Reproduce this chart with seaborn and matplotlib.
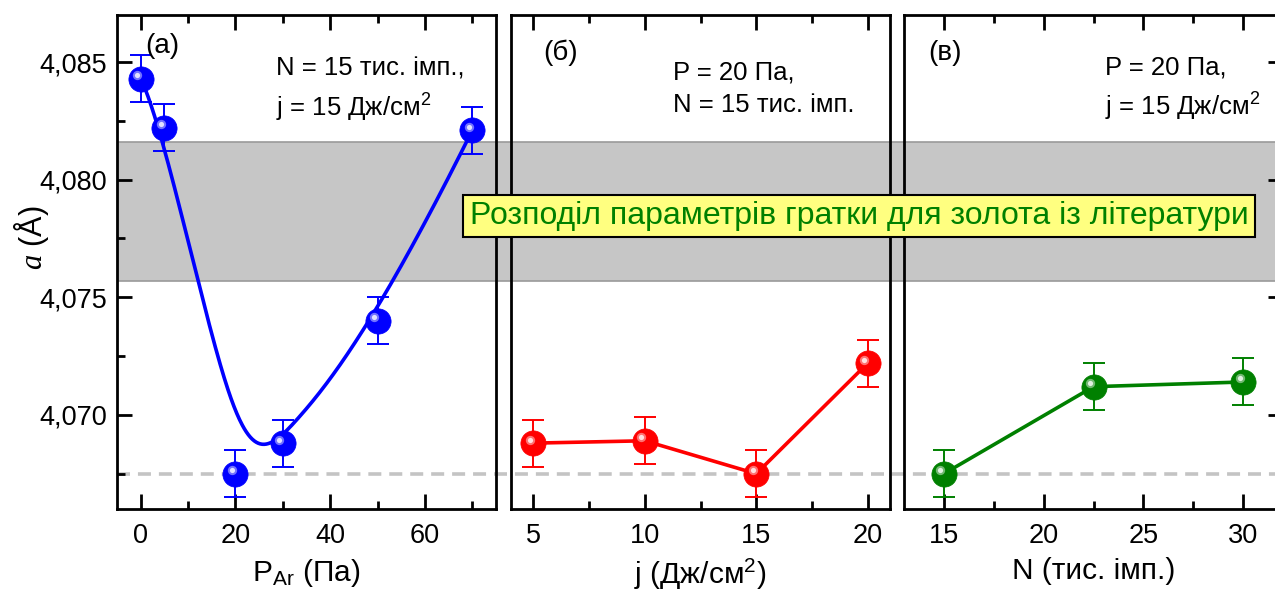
import numpy as np
import pandas as pd
import matplotlib
matplotlib.use("Agg")
import matplotlib.pyplot as plt
import matplotlib.transforms as mtransforms
from matplotlib.ticker import FuncFormatter, MultipleLocator
import seaborn as sns

# ---------------- data ----------------
p_ar = [0, 5, 20, 30, 50, 70]
a_p = [4.0843, 4.0822, 4.0675, 4.0688, 4.0740, 4.0821]
err_p = [0.001, 0.001, 0.001, 0.001, 0.001, 0.001]

j_vals = [5, 10, 15, 20]
a_j = [4.0688, 4.0689, 4.0675, 4.0722]
err_j = [0.001, 0.001, 0.001, 0.001]

n_vals = [15, 22.5, 30]
a_n = [4.0675, 4.0712, 4.0714]
err_n = [0.001, 0.001, 0.001]

lit_low, lit_high = 4.0757, 4.0816
ref_line = 4.0675

box_text = "Розподіл параметрів гратки для золота із літератури"
panel_tags = ["(а)", "(б)", "(в)"]
cond_texts = ["N = 15 тис. імп.,\nj = 15 Дж/см$^2$",
              "P = 20 Па,\nN = 15 тис. імп.",
              "P = 20 Па,\nj = 15 Дж/см$^2$"]
xlabels = ["P$_{\\mathrm{Ar}}$ (Па)", "j (Дж/см$^2$)", "N (тис. імп.)"]

# ---------------- style ----------------
sns.set_theme(style="ticks")
plt.rcParams["font.family"] = ["Liberation Sans", "DejaVu Sans"]
plt.rcParams["mathtext.fontset"] = "custom"
plt.rcParams["mathtext.rm"] = "Liberation Sans"
plt.rcParams["mathtext.it"] = "Liberation Serif:italic"
plt.rcParams["mathtext.default"] = "rm"
for key in ["text.color", "axes.labelcolor", "xtick.color", "ytick.color",
            "xtick.labelcolor", "ytick.labelcolor"]:
    plt.rcParams[key] = "black"


def bspline(cx, cy, k=3, n=300):
    cx = np.asarray(cx, float); cy = np.asarray(cy, float)
    m = len(cx)
    t = np.concatenate([np.zeros(k), np.linspace(0, 1, m - k + 1), np.ones(k)])
    u = np.linspace(0, 1, n)
    u[-1] = 1 - 1e-12
    B = np.zeros((n, len(t) - 1))
    for i in range(len(t) - 1):
        B[:, i] = ((u >= t[i]) & (u < t[i + 1])).astype(float)
    for d in range(1, k + 1):
        Bn = np.zeros((n, len(t) - 1 - d))
        for i in range(len(t) - 1 - d):
            a = 0.0
            if t[i + d] > t[i]:
                a = (u - t[i]) / (t[i + d] - t[i]) * B[:, i]
            b = 0.0
            if t[i + d + 1] > t[i + 1]:
                b = (t[i + d + 1] - u) / (t[i + d + 1] - t[i + 1]) * B[:, i + 1]
            Bn[:, i] = a + b
        B = Bn
    return B @ cx, B @ cy


W, H = 1275, 594
fig = plt.figure(figsize=(W / 100, H / 100), dpi=100)

ylim = (4.0660, 4.0870)
bottom = 1 - 509 / H
height = (509 - 15) / H
pw = 379 / W
lefts = [117 / W, 511 / W, 904 / W]

# background band + dashed ref line across all panels
bg = fig.add_axes([117 / W, bottom, 1.2, height], zorder=-5)
bg.set_xlim(0, 1)
bg.set_ylim(*ylim)
bg.axhspan(lit_low, lit_high, color="#c6c6c6", lw=0)
bg.axhline(lit_low, color="#9a9a9a", lw=1.2)
bg.axhline(lit_high, color="#9a9a9a", lw=1.2)
bg.axhline(ref_line, color="#c4c4c4", lw=2.6, dashes=(3.6, 2.2))
bg.axis("off")

axes = [fig.add_axes([l, bottom, pw, height]) for l in lefts]
colors = ["#0000ff", "#ff0000", "#008000"]
xs = [p_ar, j_vals, n_vals]
ys = [a_p, a_j, a_n]
errs = [err_p, err_j, err_n]
xlims = [(-5, 75), (4, 21), (13, 32)]
xmaj = [20, 5, 5]
xmin = [10, 2.5, 2.5]

for i, ax in enumerate(axes):
    ax.set_facecolor("none")
    c = colors[i]
    df = pd.DataFrame({"x": xs[i], "y": ys[i]})
    if i == 0:
        bx, by = bspline(xs[i], ys[i])
        ax.plot(bx, by, color=c, lw=2.6, zorder=2)
    else:
        sns.lineplot(data=df, x="x", y="y", ax=ax, color=c, lw=2.6,
                     sort=False, zorder=2)
    ax.errorbar(xs[i], ys[i], yerr=errs[i], fmt="none", ecolor=c,
                elinewidth=1.4, capsize=8, capthick=1.4, zorder=3)
    sns.scatterplot(data=df, x="x", y="y", ax=ax, color=c, s=330,
                    edgecolor=c, linewidth=0.5, zorder=4, legend=False)
    hl = mtransforms.offset_copy(ax.transData, fig=fig, x=-3.5, y=3.5, units="dots")
    ax.scatter(xs[i], ys[i], s=45, color="white", alpha=0.45, lw=0,
               transform=hl, zorder=5)
    ax.scatter(xs[i], ys[i], s=14, color="white", alpha=0.8, lw=0,
               transform=hl, zorder=6)

    ax.set_xlim(*xlims[i])
    ax.set_ylim(*ylim)
    ax.xaxis.set_major_locator(MultipleLocator(xmaj[i]))
    ax.xaxis.set_minor_locator(MultipleLocator(xmin[i]))
    ax.yaxis.set_major_locator(MultipleLocator(0.005))
    ax.yaxis.set_minor_locator(MultipleLocator(0.0025))
    for s in ax.spines.values():
        s.set_linewidth(2.0)
        s.set_color("black")
    ax.tick_params(axis="x", which="both", direction="in", top=True,
                   bottom=True, labelsize=19.5, pad=10, colors="black")
    ax.tick_params(axis="x", which="major", length=11, width=2)
    ax.tick_params(axis="x", which="minor", length=6, width=2)
    if i == 0:
        ax.tick_params(axis="y", which="both", direction="in", left=True,
                       right=False, labelsize=19.5, pad=7, colors="black")
        ax.tick_params(axis="y", which="major", length=11, width=2)
        ax.tick_params(axis="y", which="minor", length=6, width=2)
        ax.yaxis.set_major_formatter(FuncFormatter(lambda v, p: f"{v:.3f}".replace(".", ",")))
        ax.set_ylabel("$\\mathit{a}$ (Å)", fontsize=22, color="black")
        ax.yaxis.set_label_coords(-0.175, 0.55)
    elif i == 1:
        ax.tick_params(axis="y", which="both", left=False, right=False,
                       labelleft=False)
        ax.set_ylabel("")
    else:
        ax.tick_params(axis="y", which="both", direction="in", left=False,
                       right=True, labelleft=False, labelright=False,
                       colors="black")
        ax.tick_params(axis="y", which="major", length=11, width=2)
        ax.tick_params(axis="y", which="minor", length=6, width=2)
        ax.set_ylabel("")
    ax.set_xlabel(xlabels[i], fontsize=21.5, labelpad=6, color="black")

# annotations
tag_pos = [(145, 46), (543, 53), (928, 53)]
cond_pos = [(276, 90), (673, 89), (1105, 89)]
for i in range(3):
    fig.text(tag_pos[i][0] / W, 1 - tag_pos[i][1] / H, panel_tags[i],
             fontsize=20, ha="left", va="center", color="black")
    fig.text(cond_pos[i][0] / W, 1 - cond_pos[i][1] / H, cond_texts[i],
             fontsize=18.5, ha="left", va="center", linespacing=1.45,
             color="black")

fig.text(859 / W, 1 - 216 / H, box_text, fontsize=23, color="#008000",
         ha="center", va="center", zorder=10,
         bbox=dict(boxstyle="square,pad=0.2", fc="#ffff80", ec="black", lw=1.5))

fig.savefig("out.png", dpi=100)
